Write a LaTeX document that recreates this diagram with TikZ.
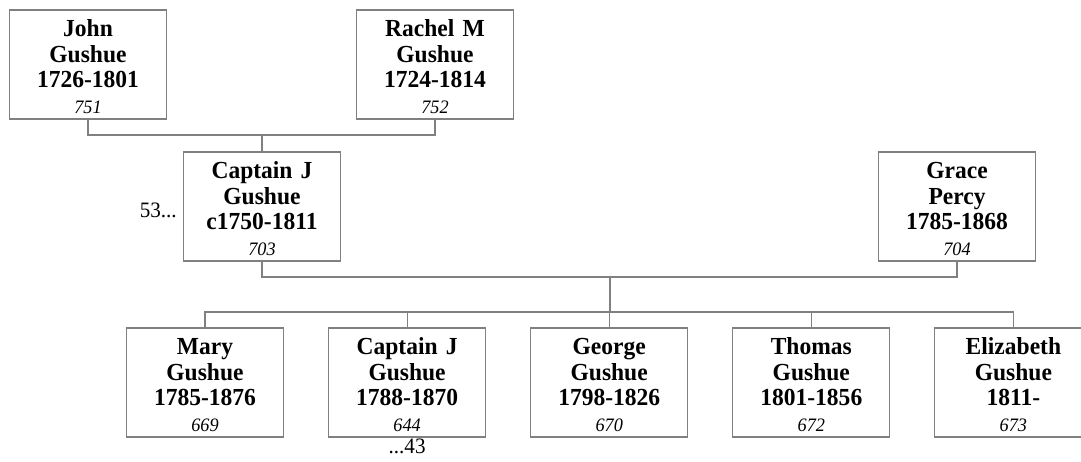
\documentclass[tikz,border=0pt]{standalone}
\usepackage{fontspec}
\setmainfont[FakeStretch=0.96]{Liberation Serif}
\usetikzlibrary{positioning}
\definecolor{boxgray}{RGB}{128,128,128}

\begin{document}
\begin{tikzpicture}[
  x=1pt, y=-1pt,
  person/.style={rectangle, draw=boxgray, line width=1.1pt, minimum width=157pt,
    minimum height=109pt, inner sep=0pt, align=center, text width=152pt,
    font=\fontsize{24.5}{25.5}\selectfont\bfseries,
    execute at begin node={\lineskiplimit=-20pt\noindent\rule{0pt}{21pt}}},
  link/.style={draw=boxgray, line width=1.1pt},
  more/.style={font=\fontsize{22}{24}\selectfont, inner sep=1pt}
]
\useasboundingbox (0,0) rectangle (1081,461);
\clip (0,0) rectangle (1081,461);

% grandparents
\node[person] (john)   at (88,64.5)  {John\\Gushue\\1726-1801\\{\fontsize{19}{25.5}\selectfont\mdseries\itshape 751}};
\node[person] (rachel) at (435,64.5) {Rachel M\\Gushue\\1724-1814\\{\fontsize{19}{25.5}\selectfont\mdseries\itshape 752}};

% parents
\node[person] (captj) at (262,206.5) {Captain J\\Gushue\\c1750-1811\\{\fontsize{19}{25.5}\selectfont\mdseries\itshape 703}};
\node[person] (grace) at (957,206.5) {Grace\\Percy\\1785-1868\\{\fontsize{19}{25.5}\selectfont\mdseries\itshape 704}};
\node[more, anchor=east] (captjmore) at ([xshift=-5pt,yshift=-4pt]captj.west) {53...};

% children
\node[person] (mary) at (205,382.5) {Mary\\Gushue\\1785-1876\\{\fontsize{19}{25.5}\selectfont\mdseries\itshape 669}};
\node[person, right=44pt of mary]   (captjr)    {Captain J\\Gushue\\1788-1870\\{\fontsize{19}{25.5}\selectfont\mdseries\itshape 644}};
\node[person, right=44pt of captjr] (george)    {George\\Gushue\\1798-1826\\{\fontsize{19}{25.5}\selectfont\mdseries\itshape 670}};
\node[person, right=44pt of george] (thomas)    {Thomas\\Gushue\\1801-1856\\{\fontsize{19}{25.5}\selectfont\mdseries\itshape 672}};
\node[person, right=44pt of thomas] (elizabeth) {Elizabeth\\Gushue\\1811-\\{\fontsize{19}{25.5}\selectfont\mdseries\itshape 673}};
\node[more, below=0pt of captjr] (captjrmore) {...43};

% connectors
\coordinate (jrbar) at (262,135);
\coordinate (cgbar) at (610,277);
\coordinate (kidsbar) at (610,312);
\draw[link] (john.south) |- (jrbar) -| (rachel.south);
\draw[link] (jrbar) -- (captj.north);
\draw[link] (captj.south) |- (cgbar) -| (grace.south);
\draw[link] (cgbar) -- (kidsbar);
\foreach \kid in {mary,captjr,george,thomas,elizabeth}
  \draw[link] (kidsbar) -| (\kid.north);
\end{tikzpicture}
\end{document}
